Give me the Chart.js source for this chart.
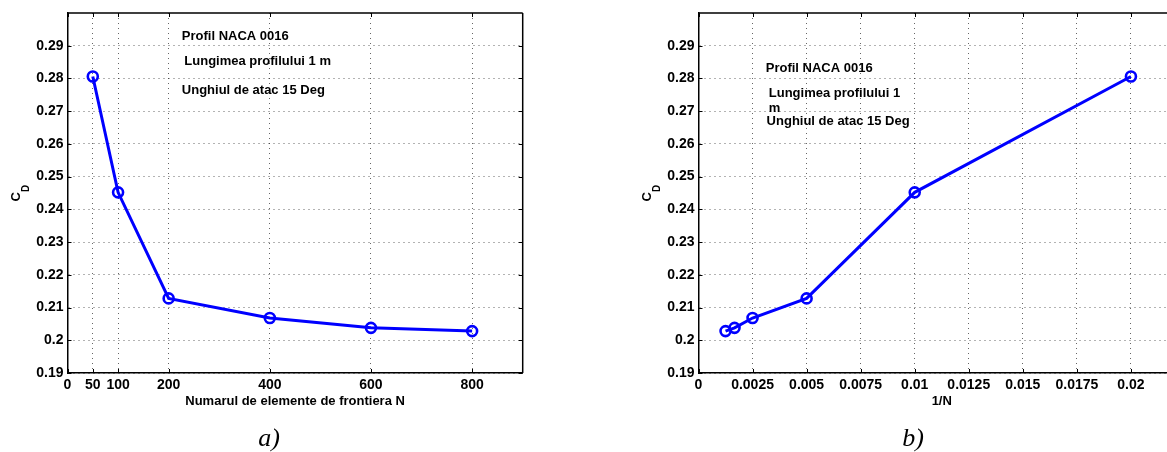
<!DOCTYPE html>
<html>
<head>
<meta charset="utf-8">
<script src="https://cdn.jsdelivr.net/npm/chart.js@4/dist/chart.umd.min.js"></script>
<style>
  html, body { margin: 0; padding: 0; background: #fff; overflow: hidden; width: 1167px; height: 452px; }
  #chartA { position: absolute; left: 0; top: 0; }
  #chartB { position: absolute; left: 600px; top: 0; }
</style>
</head>
<body>
<canvas id="chartA" width="545" height="452"></canvas>
<canvas id="chartB" width="620" height="452"></canvas>
<script>
// number of boundary elements and the resulting drag coefficient
const elementCounts = [50, 100, 200, 400, 600, 800];
const dragCoeff = [0.2806, 0.2452, 0.2128, 0.2068, 0.2038, 0.2028];
const inverseCounts = elementCounts.map(n => 1 / n);

// tick positions
const countTicks = [0, 50, 100, 200, 400, 600, 800];
const inverseTicks = [0, 0.0025, 0.005, 0.0075, 0.01, 0.0125, 0.015, 0.0175, 0.02];
const cdTicks = [0.19, 0.20, 0.21, 0.22, 0.23, 0.24, 0.25, 0.26, 0.27, 0.28, 0.29];

const FONT = "'Liberation Sans', Arial, Helvetica, sans-serif";
const gridColor = "rgba(0,0,0,0.6)";

// box, inward ticks, text notes, C_D label and caption (matlab look)
const framePlugin = {
  id: "matlabFrame",
  afterDraw(chart, args, opts) {
    const ctx = chart.ctx;
    const a = chart.chartArea;
    const xs = chart.scales.x, ys = chart.scales.y;
    ctx.save();
    ctx.strokeStyle = "#000";
    ctx.lineWidth = 1.5;
    ctx.beginPath();
    ctx.moveTo(a.left, a.top); ctx.lineTo(a.right, a.top);
    ctx.moveTo(a.right, a.top); ctx.lineTo(a.right, a.bottom);
    ctx.stroke();

    ctx.lineWidth = 1;
    ctx.beginPath();
    xs.ticks.forEach(t => {
      const px = Math.round(xs.getPixelForValue(t.value)) + 0.5;
      ctx.moveTo(px, a.bottom); ctx.lineTo(px, a.bottom - 4);
      ctx.moveTo(px, a.top); ctx.lineTo(px, a.top + 4);
    });
    ys.ticks.forEach(t => {
      const py = Math.round(ys.getPixelForValue(t.value)) + 0.5;
      ctx.moveTo(a.left, py); ctx.lineTo(a.left + 4, py);
      ctx.moveTo(a.right, py); ctx.lineTo(a.right - 4, py);
    });
    ctx.stroke();

    // notes placed in data coordinates
    ctx.fillStyle = "#000";
    ctx.font = "bold 13px " + FONT;
    ctx.textAlign = "left";
    ctx.textBaseline = "middle";
    opts.notes.forEach(n => {
      ctx.fillText(n.text, xs.getPixelForValue(n.x), ys.getPixelForValue(n.y));
    });

    // rotated C_D axis label
    const cx = a.left - 52, cy = (a.top + a.bottom) / 2;
    ctx.translate(cx, cy);
    ctx.rotate(-Math.PI / 2);
    ctx.textBaseline = "alphabetic";
    ctx.font = "bold 13px " + FONT;
    const wC = ctx.measureText("C").width;
    ctx.fillText("C", -8.5, 4.5);
    ctx.font = "bold 10px " + FONT;
    ctx.fillText("D", -8.5 + wC, 13);
    ctx.setTransform(1, 0, 0, 1, 0, 0);

    // caption under the plot
    ctx.font = "italic 26px 'Liberation Serif', 'Times New Roman', serif";
    ctx.textAlign = "center";
    ctx.fillText(opts.caption.text, opts.caption.x, opts.caption.y);
    ctx.restore();
  }
};

function buildChart(canvasId, xValues, xTicks, xMax, xTitle, xLabel, layoutPad, yAxisWidth, frameOpts) {
  const points = xValues.map((x, i) => ({ x: x, y: dragCoeff[i] }));
  return new Chart(document.getElementById(canvasId), {
    type: "line",
    data: {
      datasets: [{
        data: points,
        borderColor: "#0000ff",
        borderWidth: 3,
        pointRadius: 5,
        pointBorderWidth: 2.6,
        pointBorderColor: "#0000ff",
        pointBackgroundColor: "rgba(0,0,0,0)",
        tension: 0,
        clip: false
      }]
    },
    options: {
      responsive: false,
      animation: false,
      events: [],
      layout: { padding: layoutPad },
      plugins: {
        legend: { display: false },
        tooltip: { enabled: false },
        matlabFrame: frameOpts
      },
      scales: {
        x: {
          type: "linear",
          min: 0,
          max: xMax,
          afterBuildTicks: s => { s.ticks = xTicks.map(v => ({ value: v })); },
          afterFit: s => { s.height = 36.5; },
          ticks: {
            color: "#000",
            font: { family: FONT, size: 14, weight: "bold" },
            padding: 4,
            maxRotation: 0,
            autoSkip: false,
            callback: xLabel
          },
          grid: { color: gridColor, lineWidth: 1, drawTicks: false },
          border: { display: true, color: "#000", width: 1.5, dash: [1, 4] },
          title: {
            display: true,
            text: xTitle,
            color: "#000",
            font: { family: FONT, size: 13, weight: "bold" },
            padding: { top: 0, bottom: 0 }
          }
        },
        y: {
          type: "linear",
          min: 0.19,
          max: 0.30,
          afterBuildTicks: s => { s.ticks = cdTicks.map(v => ({ value: v })); },
          afterFit: s => { s.width = yAxisWidth; },
          ticks: {
            color: "#000",
            font: { family: FONT, size: 14, weight: "bold" },
            padding: 4,
            autoSkip: false,
            callback: v => String(Number(v.toFixed(2)))
          },
          grid: { color: gridColor, lineWidth: 1, drawTicks: false },
          border: { display: true, color: "#000", width: 1.5, dash: [1, 4] }
        }
      }
    },
    plugins: [framePlugin]
  });
}

buildChart("chartA", elementCounts, countTicks, 900,
  "Numarul de elemente de frontiera N",
  v => String(v),
  { left: 0, top: 13, right: 22.3, bottom: 42.5 }, 67.5,
  {
    notes: [
      { text: "Profil NACA 0016", x: 226, y: 0.29275 },
      { text: "Lungimea profilului 1 m", x: 231, y: 0.28533 },
      { text: "Unghiul de atac 15 Deg", x: 226, y: 0.27646 }
    ],
    caption: { text: "a)", x: 269, y: 446 }
  });

buildChart("chartB", inverseCounts, inverseTicks, 0.0225,
  "1/N",
  v => String(v),
  { left: 0, top: 13, right: 35, bottom: 42.5 }, 98.5,
  {
    notes: [
      { text: "Profil NACA 0016", x: 0.00311, y: 0.28309 },
      { text: "Lungimea profilului 1", x: 0.00325, y: 0.27546 },
      { text: "m", x: 0.00325, y: 0.27088 },
      { text: "Unghiul de atac 15 Deg", x: 0.00315, y: 0.26678 }
    ],
    caption: { text: "b)", x: 313, y: 446 }
  });
</script>
</body>
</html>
